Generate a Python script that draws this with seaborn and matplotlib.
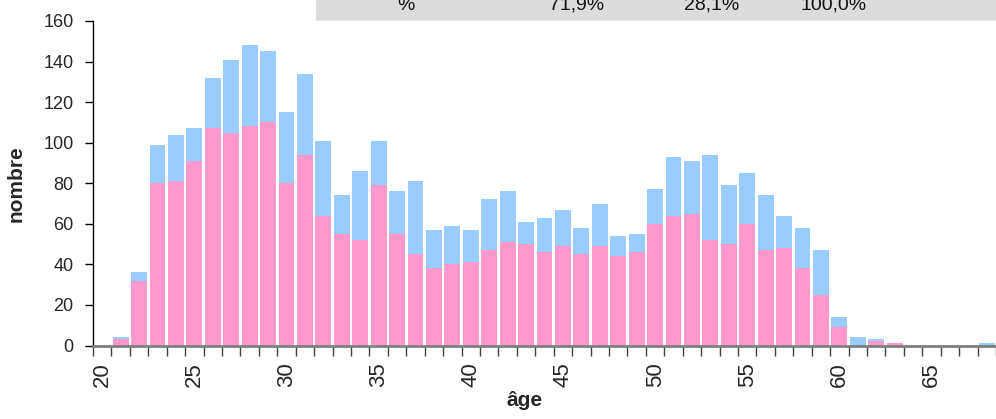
import pandas as pd
import matplotlib.pyplot as plt
import seaborn as sns
from matplotlib.patches import Rectangle

# ages 20..68
ages = list(range(20, 69))
# total height of each bar
total = [0, 4, 36, 99, 104, 107, 132, 141, 148, 145,
         115, 134, 101, 74, 86, 101, 76, 81, 57, 59,
         57, 72, 76, 61, 63, 67, 58, 70, 54, 55,
         77, 93, 91, 94, 79, 85, 74, 64, 58, 47,
         14, 4, 3, 1, 0, 0, 0, 0, 1]
# pink part (bottom of the stack)
rose = [0, 3, 32, 80, 81, 91, 107, 105, 108, 110,
        80, 94, 64, 55, 52, 79, 55, 45, 38, 40,
        41, 47, 51, 50, 46, 49, 45, 49, 44, 46,
        60, 64, 65, 52, 50, 60, 47, 48, 38, 25,
        9, 0, 2, 1, 0, 0, 0, 0, 0]
# summary row shown at the top
table_labels = ['%', '71,9%', '28,1%', '100,0%']

df = pd.DataFrame({'age': ages, 'total': total, 'rose': rose})

sns.set_theme(style="white")
plt.rcParams['font.family'] = ['Liberation Sans', 'DejaVu Sans']

fig = plt.figure(figsize=(9.96, 4.19), dpi=100)
W, H = 996, 419
ax = fig.add_axes([93 / W, (H - 345.5) / H, 1 - 93 / W, (345.5 - 21) / H])

blue = '#99CCFF'
pink = '#FF99CC'
sns.barplot(data=df, x='age', y='total', color=blue, saturation=1, width=0.86, linewidth=0, ax=ax)
sns.barplot(data=df, x='age', y='rose', color=pink, saturation=1, width=0.86, linewidth=0, ax=ax)

ax.set_xlim(-0.5, 48.05)
ax.set_ylim(0, 160)
ax.set_yticks(range(0, 161, 20))
ax.tick_params(axis='y', labelsize=13, length=6, width=1, color='black', pad=8, direction='out', left=True)

pos = list(range(0, 46, 5))
ax.set_xticks(pos)
ax.set_xticklabels([str(ages[p]) for p in pos], rotation=90, fontsize=16)
ax.set_xticks([k + 0.5 for k in range(-1, 49)], minor=True)
ax.tick_params(axis='x', which='major', length=0, pad=12)
ax.tick_params(axis='x', which='minor', length=7, width=1, color='#404040', direction='out', bottom=True)

for s in ['top', 'right']:
    ax.spines[s].set_visible(False)
ax.spines['left'].set_color('black')
ax.spines['left'].set_linewidth(1)
ax.spines['bottom'].set_color('#7f7f7f')
ax.spines['bottom'].set_linewidth(2)

ax.set_xlabel('âge', fontsize=15, fontweight='bold')
ax.set_ylabel('nombre', fontsize=15, fontweight='bold')
ax.xaxis.set_label_coords((525 - 93) / (W - 93), -(391 - 345.5) / (345.5 - 21))
ax.yaxis.set_label_coords(-(93 - 26) / (W - 93), 0.5)

# grey summary strip, cut by the top of the image
fig.patches.append(Rectangle((316 / W, (H - 20) / H), 1, 20 / H, transform=fig.transFigure,
                             facecolor='#DCDCDC', edgecolor='none', zorder=0))
fig.patches.append(Rectangle((316 / W, (H - 21) / H), 1, 1 / H, transform=fig.transFigure,
                             facecolor='#EBEBEB', edgecolor='none', zorder=0))
for lab, xc in zip(table_labels, [406, 577, 712, 834]):
    fig.text(xc / W, (H - 9.5) / H, lab, ha='center', va='baseline', fontsize=14, color='#111111')

plt.savefig('out.png', dpi=100)
